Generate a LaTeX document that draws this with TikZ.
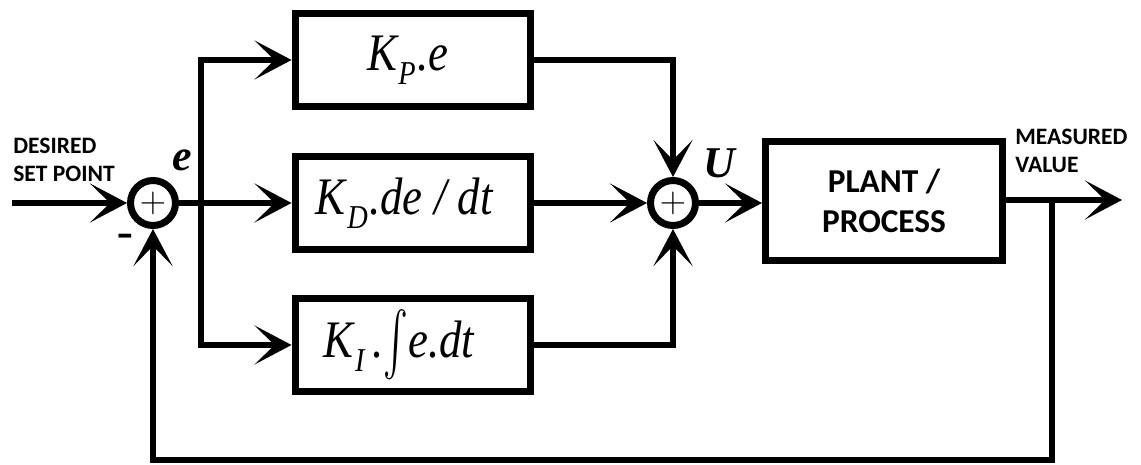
\documentclass[tikz,border=0pt]{standalone}
\usepackage{amsmath}
\usepackage{fontspec}
\newfontfamily\lblfont{Carlito}
\newfontfamily\boxfont{Liberation Serif}
\newcommand\kidx[1]{\kern1pt\raisebox{-8pt}{\fontsize{19}{21}\selectfont #1}\kern1pt}
\newcommand\narrow[1]{\scalebox{0.85}[1]{#1}}
\usetikzlibrary{arrows.meta}

\begin{document}
\begin{tikzpicture}[x=0.02cm, y=-0.02cm,
  box/.style={draw, line width=0.14cm, minimum width=4.72cm,
              minimum height=1.88cm, inner sep=0pt,
              font=\boxfont\itshape\fontsize{30}{36}\selectfont},
  sumnode/.style={draw, circle, line width=0.14cm, minimum size=0.9cm,
                  inner sep=0pt, font=\fontsize{20}{24}\selectfont},
  arr/.style={-{Stealth[length=0.74cm, width=0.78cm, inset=0.4cm]},
              line width=0.12cm},
  lbl/.style={font=\lblfont\bfseries\fontsize{13.4}{16}\selectfont,
              align=left, inner sep=0pt},
  sig/.style={font=\boxfont\bfseries\itshape\fontsize{25}{28}\selectfont,
              inner sep=0pt},
]
\useasboundingbox (0,0) rectangle (1141,465);

% ---- Error summing junction ----
\node[sumnode] (sum1) at (153,203) {$+$};
\coordinate (in) at (12,203);
\draw[arr] (in) -- (sum1.west);

\node[lbl, anchor=south west] (desired) at (13,182) {DESIRED\\SET POINT};
\node[sig] (err) at (182,160) {e};
\node[font=\bfseries\fontsize{24}{28}\selectfont] (minus) at (126,240) {-};

% ---- P, D, I branches ----
\node[box] (kp) at (413,60)  {\narrow{K\kidx{P}.e}\kern6pt};
\node[box] (kd) at (413,203) {\narrow{K\kidx{D}.de / dt}\kern10pt};
\node[box] (ki) at (413,345)
  {\narrow{K\kidx{I}\kern4pt.\raisebox{-2pt}{\scalebox{1}[1.45]{$\int$}}e.dt}\kern16pt};

\coordinate (br) at (201,203);
\draw[arr] (sum1.east) -- (kd.west);
\draw[arr] (br) |- (kp.west);
\draw[arr] (br) |- (ki.west);

% ---- Controller output sum ----
\node[sumnode] (sum2) at (673,203) {$+$};
\draw[arr] (kp.east) -| (sum2.north);
\draw[arr] (kd.east) -- (sum2.west);
\draw[arr] (ki.east) -| (sum2.south);
\node[sig] (u) at (719,163) {U};

% ---- Plant ----
\node[draw, line width=0.14cm, minimum width=4.74cm, minimum height=2.4cm,
      align=center, font=\lblfont\bfseries\fontsize{19}{23}\selectfont]
  (plant) at (884,201) {PLANT /\\PROCESS};
\draw[arr] (sum2.east) -- (sum2.east -| plant.west);

\coordinate (out) at (1122,200);
\draw[arr] (plant.east |- out) -- (out);
\node[lbl, anchor=south west] (meas) at (1015,173) {MEASURED\\VALUE};

% ---- Feedback path ----
\coordinate (fb) at (1052,200);
\coordinate (low) at (1052,460);
\draw[arr] (fb) -- (low) -| (sum1.south);

\end{tikzpicture}
\end{document}
